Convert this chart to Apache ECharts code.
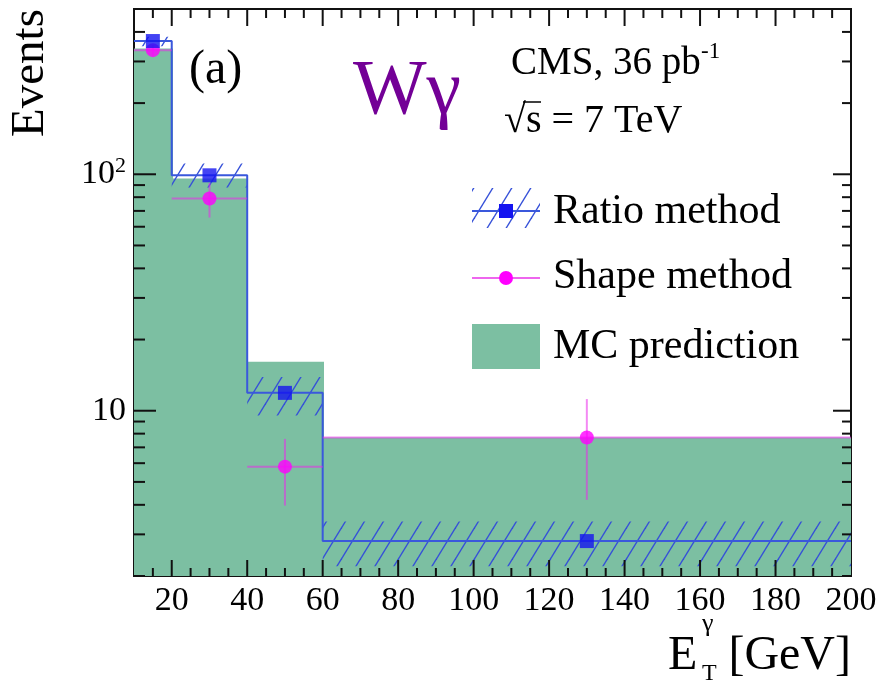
<!DOCTYPE html>
<html><head><meta charset="utf-8">
<script src="https://cdn.jsdelivr.net/npm/echarts@6/dist/echarts.min.js"></script>
<style>html,body{margin:0;padding:0;background:#fff}#c{width:878px;height:685px}</style>
</head><body><div id="c"></div>
<script>
// ---- data ----
const binLo = [10, 20, 40, 60];
const binHi = [20, 40, 60, 200];
const binCenter = [15, 30, 50, 130];
const mcPred = [340, 96, 16.1, 7.7];
const ratioVal = [366, 99, 11.9, 2.81];
const ratioErrLo = [348, 88, 9.55, 2.2];
const ratioErrHi = [382, 111, 13.9, 3.4];
const shapeVal = [335, 79, 5.8, 7.7];
const shapeErrLo = [318, 65.6, 3.97, 4.2];
const shapeErrHi = [352, 91.8, 7.6, 11.2];
const xTickLabels = [20, 40, 60, 80, 100, 120, 140, 160, 180, 200];
const yTickLabels = [10, 100];

const X_MIN = 10, X_MAX = 200, Y_MIN = 2, Y_MAX = 500;
const FONT = 'Liberation Serif';
const GREEN = '#7cbfa2';
const BLUE_LINE = '#3a58dc';
const BLUE_MARK = '#1414f0';
const PINK = '#ff00ff';
const PINK_ERR = 'rgba(235,40,235,0.55)';

// hatch pattern
function makeHatch() {
  const w = 19, h = 31;
  const cv = document.createElement('canvas');
  cv.width = w; cv.height = h;
  const ctx = cv.getContext('2d');
  ctx.strokeStyle = '#3550d8';
  ctx.lineWidth = 1.4;
  for (let k = -1; k <= 1; k++) {
    ctx.beginPath();
    ctx.moveTo(k * w - w, 2 * h);
    ctx.lineTo(k * w + 2 * w, -h);
    ctx.stroke();
  }
  return cv;
}
const hatch = makeHatch();
const HATCH_FILL = { image: hatch, repeat: 'repeat' };

const chart = echarts.init(document.getElementById('c'), null, { renderer: 'canvas' });

const bins = binLo.map((lo, i) => [lo, binHi[i], mcPred[i]]);
const bands = binLo.map((lo, i) => [lo, binHi[i], ratioErrLo[i], ratioErrHi[i]]);
const stepData = binLo.map((lo, i) => [lo, ratioVal[i]]).concat([[binHi[binHi.length - 1], ratioVal[ratioVal.length - 1]]]);
const shapeErr = binCenter.map((c, i) => [c, binLo[i], binHi[i], shapeVal[i], shapeErrLo[i], shapeErrHi[i]]);

function renderTicks(params, api) {
  const ch = [];
  const pt = (x, y) => api.coord([x, y]);
  const yBot = pt(X_MIN, Y_MIN)[1], yTop = pt(X_MIN, Y_MAX)[1];
  const xL = pt(X_MIN, 10)[0], xR = pt(X_MAX, 10)[0];
  const ls = { stroke: '#111', lineWidth: 2 };
  for (let v = 15; v < X_MAX; v += 5) {
    const major = v % 20 === 0;
    const len = major ? 16 : 8;
    const x = pt(v, 10)[0];
    ch.push({ type: 'line', shape: { x1: x, y1: yBot, x2: x, y2: yBot - len }, style: ls });
    ch.push({ type: 'line', shape: { x1: x, y1: yTop, x2: x, y2: yTop + (major ? 17 : 9) }, style: ls });
  }
  [1, 10, 100].forEach(d => {
    for (let m = 1; m <= 9; m++) {
      const v = m * d;
      if (v < Y_MIN || v > Y_MAX) continue;
      const major = m === 1;
      const y = pt(X_MIN, v)[1];
      ch.push({ type: 'line', shape: { x1: xL, y1: y, x2: xL + (major ? 22 : 11), y2: y }, style: ls });
      ch.push({ type: 'line', shape: { x1: xR, y1: y, x2: xR - (major ? 18 : 9), y2: y }, style: ls });
    }
  });
  return { type: 'group', children: ch };
}

const option = {
  animation: false,
  backgroundColor: '#fff',
  grid: { left: 134, right: 27, top: 9, bottom: 109, show: true, borderColor: '#111', borderWidth: 2, backgroundColor: 'transparent', containLabel: false, outerBoundsMode: 'none' },
  xAxis: {
    type: 'value', min: X_MIN, max: X_MAX, interval: 10,
    axisLine: { show: false }, axisTick: { show: false }, splitLine: { show: false },
    axisLabel: {
      margin: 8, fontFamily: FONT, fontSize: 34, color: '#000',
      formatter: v => (xTickLabels.indexOf(Math.round(v)) >= 0 ? String(Math.round(v)) : '')
    }
  },
  yAxis: {
    type: 'log', logBase: 10, min: Y_MIN, max: Y_MAX,
    axisLine: { show: false }, axisTick: { show: false }, splitLine: { show: false },
    axisLabel: {
      margin: 8, fontFamily: FONT, fontSize: 34, color: '#000',
      showMinLabel: false, showMaxLabel: false,
      formatter: v => {
        const e = Math.round(Math.log10(v) * 1e6) / 1e6;
        const val = Math.round(v);
        if (yTickLabels.indexOf(val) < 0 || Math.abs(e - Math.round(e)) > 1e-6) return '';
        if (val === 10) return '{b|10}';
        return '{b|10}{s|' + Math.round(e) + '}';
      },
      rich: {
        b: { fontFamily: FONT, fontSize: 34, color: '#000' },
        s: { fontFamily: FONT, fontSize: 22, color: '#000', verticalAlign: 'top', padding: [0, 0, 16, 0] }
      }
    }
  },
  series: [
    {
      name: 'MC prediction', type: 'custom', clip: true, z: 1,
      encode: { x: [0, 1], y: [2] },
      data: bins,
      renderItem: (params, api) => {
        const p1 = api.coord([api.value(0), api.value(2)]);
        const p2 = api.coord([api.value(1), Y_MIN]);
        const x0 = Math.round(p1[0]), x1 = Math.round(p2[0]) + 1;
        return { type: 'rect', shape: { x: x0, y: p1[1], width: x1 - x0, height: p2[1] - p1[1] + 2 }, style: { fill: GREEN } };
      }
    },
    {
      name: 'Ratio band', type: 'custom', clip: true, z: 2,
      encode: { x: [0, 1], y: [2, 3] },
      data: bands,
      renderItem: (params, api) => {
        const p1 = api.coord([api.value(0), api.value(3)]);
        const p2 = api.coord([api.value(1), api.value(2)]);
        return { type: 'rect', shape: { x: p1[0], y: p1[1], width: p2[0] - p1[0], height: p2[1] - p1[1] }, style: { fill: HATCH_FILL } };
      }
    },
    {
      name: 'Ratio line', type: 'line', step: 'end', z: 3,
      data: stepData, showSymbol: false, symbol: 'none',
      lineStyle: { color: BLUE_LINE, width: 2 }
    },
    {
      name: 'Shape errors', type: 'custom', clip: true, z: 4,
      encode: { x: [0, 1, 2], y: [3, 4, 5] },
      data: shapeErr,
      renderItem: (params, api) => {
        const c = api.value(0), lo = api.value(1), hi = api.value(2), v = api.value(3), eL = api.value(4), eH = api.value(5);
        const a = api.coord([lo, v]), b = api.coord([hi, v]);
        const t = api.coord([c, eH]), u = api.coord([c, eL]);
        const st = { stroke: PINK_ERR, lineWidth: 2 };
        return { type: 'group', children: [
          { type: 'line', shape: { x1: a[0], y1: a[1], x2: b[0], y2: b[1] }, style: st },
          { type: 'line', shape: { x1: t[0], y1: t[1], x2: u[0], y2: u[1] }, style: st }
        ] };
      }
    },
    {
      name: 'Shape method', type: 'scatter', z: 5,
      data: binCenter.map((c, i) => [c, shapeVal[i]]),
      symbol: 'circle', symbolSize: 14, itemStyle: { color: PINK }
    },
    {
      name: 'Ratio method', type: 'scatter', z: 6,
      data: binCenter.map((c, i) => [c, ratioVal[i]]),
      symbol: 'rect', symbolSize: 14, itemStyle: { color: BLUE_MARK }
    },
    {
      name: 'ticks', type: 'custom', clip: false, z: 10, silent: true,
      data: [[100, 10]],
      renderItem: renderTicks
    }
  ],
  graphic: [
    { type: 'text', x: 31, y: 73, rotation: Math.PI / 2, style: { text: 'Events', font: '47px "Liberation Serif"', fill: '#000', align: 'center', verticalAlign: 'middle' } },
    { type: 'text', x: 189, y: 70, style: { text: '(a)', font: '48px "Liberation Serif"', fill: '#000', align: 'left', verticalAlign: 'middle' } },
    { type: 'text', x: 353, y: 93, style: { text: 'Wγ', font: '78px "Liberation Serif"', fill: '#730096', align: 'left', verticalAlign: 'middle' } },
    { type: 'text', x: 511, y: 64, style: { text: 'CMS, 36 pb', font: '39px "Liberation Serif"', fill: '#000', align: 'left', verticalAlign: 'middle' } },
    { type: 'text', x: 701, y: 52, style: { text: '-1', font: '23px "Liberation Serif"', fill: '#000', align: 'left', verticalAlign: 'middle' } },
    { type: 'text', x: 504, y: 121, style: { text: '√s = 7 TeV', font: '40px "Liberation Serif"', fill: '#000', align: 'left', verticalAlign: 'middle' } },
    { type: 'line', shape: { x1: 523, y1: 102, x2: 541, y2: 102 }, style: { stroke: '#000', lineWidth: 1.5 } },
    // legend
    { type: 'rect', shape: { x: 472, y: 188, width: 68, height: 40 }, style: { fill: HATCH_FILL } },
    { type: 'line', shape: { x1: 472, y1: 211, x2: 540, y2: 211 }, style: { stroke: BLUE_LINE, lineWidth: 2 } },
    { type: 'rect', shape: { x: 499, y: 204, width: 14, height: 14 }, style: { fill: BLUE_MARK } },
    { type: 'text', x: 553, y: 212, style: { text: 'Ratio method', font: '42px "Liberation Serif"', fill: '#000', align: 'left', verticalAlign: 'middle' } },
    { type: 'line', shape: { x1: 472, y1: 278, x2: 540, y2: 278 }, style: { stroke: '#ee66ee', lineWidth: 2 } },
    { type: 'circle', shape: { cx: 506, cy: 278, r: 7 }, style: { fill: PINK } },
    { type: 'text', x: 553, y: 277, style: { text: 'Shape method', font: '42px "Liberation Serif"', fill: '#000', align: 'left', verticalAlign: 'middle' } },
    { type: 'rect', shape: { x: 472, y: 324, width: 68, height: 45 }, style: { fill: GREEN } },
    { type: 'text', x: 553, y: 347, style: { text: 'MC prediction', font: '42px "Liberation Serif"', fill: '#000', align: 'left', verticalAlign: 'middle' } },
    // x-axis title
    { type: 'text', x: 668, y: 656, style: { text: 'E', font: '48px "Liberation Serif"', fill: '#000', align: 'left', verticalAlign: 'middle' } },
    { type: 'text', x: 702, y: 624, style: { text: 'γ', font: '26px "Liberation Serif"', fill: '#000', align: 'left', verticalAlign: 'middle' } },
    { type: 'text', x: 702, y: 674, style: { text: 'T', font: '24px "Liberation Serif"', fill: '#000', align: 'left', verticalAlign: 'middle' } },
    { type: 'text', x: 851, y: 656, style: { text: '[GeV]', font: '48px "Liberation Serif"', fill: '#000', align: 'right', verticalAlign: 'middle' } }
  ]
};
chart.setOption(option);
</script>
</body></html>
